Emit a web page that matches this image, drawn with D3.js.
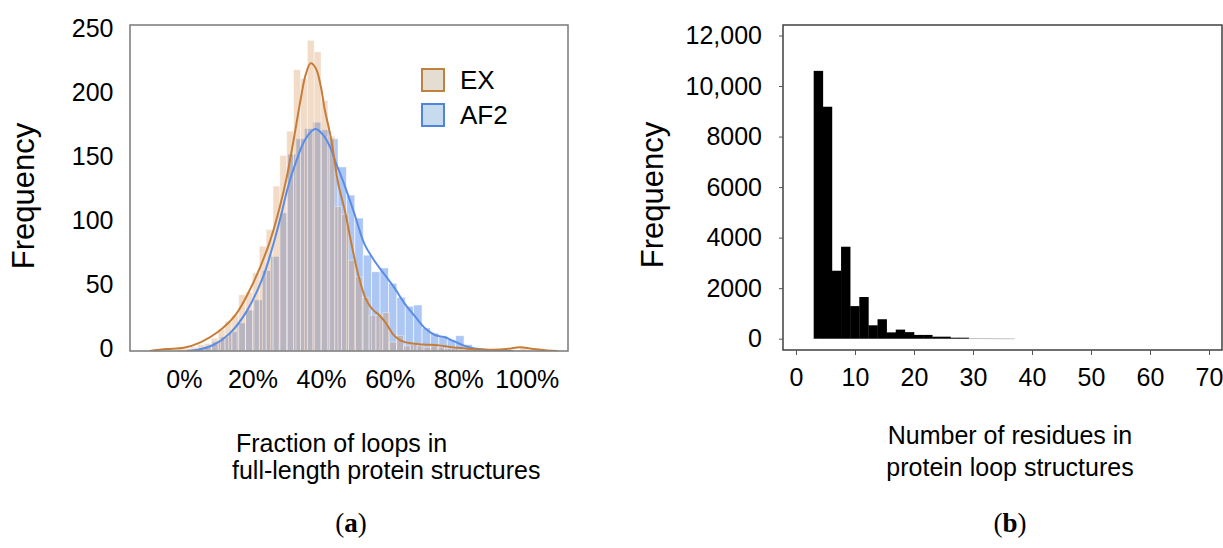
<!DOCTYPE html>
<html>
<head>
<meta charset="utf-8">
<script src="https://cdn.jsdelivr.net/npm/d3@7"></script>
<style>
  body { margin: 0; background: #fff; }
  svg { font-family: "Liberation Sans", Arial, sans-serif; }
</style>
</head>
<body>
<svg id="fig" width="1223" height="548"></svg>
<script>
// ---- panel (a): fraction of loops, two overlaid histograms + kde ----
const seriesNames = ['EX', 'AF2'];

const exBinWidth = 2;
const exBinStarts = [-2, 0, 2, 4, 6, 8, 10, 12, 14, 16, 18, 20, 22, 24, 26, 28, 30, 32, 34, 36, 38,
  40, 42, 44, 46, 48, 50, 52, 54, 56, 58, 60, 62, 64, 66, 68, 70, 72, 74, 76, 78, 80, 82,
  84, 86, 88, 90, 92, 94, 96, 98];
const exCounts = [3, 2, 3, 5, 6, 10, 17, 23, 28, 44, 46, 61, 82, 95, 129, 153, 172, 220, 213, 243, 234,
  196, 168, 113, 107, 71, 58, 42, 28, 28, 30, 7, 12, 4, 5, 4, 3, 4, 3, 2, 2, 1, 1,
  0, 0, 0, 0, 0, 0, 1, 3];

const af2BinWidth = 2.45;
const af2BinStarts = [3.3, 5.75, 8.2, 10.65, 13.1, 15.55, 18.0, 20.45, 22.9, 25.35, 27.8, 30.25,
  32.7, 35.15, 37.6, 40.05, 42.5, 44.95, 47.4, 49.85, 52.3, 54.75, 57.2, 59.65, 62.1, 64.55,
  67.0, 69.45, 71.9, 74.35, 76.8, 79.25, 81.7, 84.15, 86.6, 89.05];
const af2Counts = [1, 3, 7, 11, 15, 22, 32, 40, 63, 74, 108, 154, 166, 174, 179, 173, 166, 144,
  122, 104, 75, 62, 65, 53, 42, 35, 36, 18, 14, 12, 9, 12, 5, 2, 1, 1];

// kde curves: [fraction %, frequency]
const exKde = [[-10, 0], [-5, 1.5], [0, 2.5], [5, 7], [10, 15], [15, 28], [20, 52], [25, 85],
  [28, 113], [30, 136], [32, 165], [34, 196], [35.5, 216], [37, 225], [38.5, 221], [40, 206],
  [41, 190], [43, 165], [45, 131], [47, 109], [49, 82], [51, 58], [53, 41], [55, 32.5],
  [57, 28], [59, 21.5], [61, 13], [63, 8.5], [66, 6], [70, 5], [74, 4.5], [78, 3], [82, 2],
  [86, 1.2], [90, 1], [94, 1.5], [98, 3], [102, 1.5], [106, 0.4], [109, 0]];
const af2Kde = [[1, 0], [3.7, 0.8], [8.6, 4.7], [13.4, 13.8], [18.3, 31], [23.1, 58], [25.6, 79],
  [28, 102.5], [30.4, 128.6], [32.9, 149.5], [35.3, 165], [37.7, 173], [38.7, 173.5],
  [40.6, 169], [42.6, 160], [44, 149.5], [47, 128.6], [49.9, 106], [52.6, 84], [55.7, 70],
  [58.6, 59.5], [61.5, 49], [64.4, 37], [67.4, 27], [70.3, 17.8], [73.2, 12.5], [76.1, 10.7],
  [79, 7.3], [81.9, 4], [84.8, 2], [88, 1], [92, 0.3], [96, 0]];

const xTicksA = [0, 20, 40, 60, 80, 100];
const yTicksA = [0, 50, 100, 150, 200, 250];

// ---- panel (b): residues per loop ----
const loopBinStarts = [3, 4.55, 6.09, 7.64, 9.18, 10.73, 12.27, 13.82, 15.36, 16.91, 18.45, 20,
  21.55, 23.09, 24.64, 26.18, 27.73, 29.27, 30.82, 32.36, 33.91, 35.45];
const loopBinEnd = 37;
const loopCounts = [10600, 9180, 2690, 3640, 1290, 1650, 530, 770, 250, 360, 260, 150, 150, 80,
  80, 40, 40, 12, 10, 8, 6, 5];

const xTicksB = [0, 10, 20, 30, 40, 50, 60, 70];
const yTicksB = [0, 2000, 4000, 6000, 8000, 10000, 12000];
const yTickLabelsB = ['0', '2000', '4000', '6000', '8000', '10,000', '12,000'];

const svg = d3.select('#fig');

// colours
const exColor = 'rgb(211,138,72)';
const af2Color = 'rgb(100,149,237)';
const exLine = '#c67d38';
const af2Line = '#5a8de6';

// ================= panel (a) =================
const xA = d3.scaleLinear().domain([-15.7, 112]).range([130, 568]);
const yA = d3.scaleLinear().domain([0, 255]).range([351, 25]);

const chartA = svg.append('g');

chartA.append('clipPath').attr('id', 'clipA')
  .append('rect')
  .attr('x', 130).attr('y', 25).attr('width', 438).attr('height', 326);

const af2Data = af2BinStarts.map((s, i) => ({x0: s, x1: s + af2BinWidth, n: af2Counts[i]}));
const exData = exBinStarts.map((s, i) => ({x0: s, x1: s + exBinWidth, n: exCounts[i]}));

chartA.append('g').selectAll('rect')
  .data(af2Data)
  .join('rect')
  .attr('x', d => xA(d.x0))
  .attr('width', d => xA(d.x1) - xA(d.x0))
  .attr('y', d => yA(d.n))
  .attr('height', d => yA(0) - yA(d.n))
  .attr('fill', af2Color)
  .attr('fill-opacity', 0.53)
  .attr('stroke', '#fff')
  .attr('stroke-opacity', 0.7)
  .attr('stroke-width', 0.8);

chartA.append('g').selectAll('rect')
  .data(exData)
  .join('rect')
  .attr('x', d => xA(d.x0))
  .attr('width', d => xA(d.x1) - xA(d.x0))
  .attr('y', d => yA(d.n))
  .attr('height', d => yA(0) - yA(d.n))
  .attr('fill', exColor)
  .attr('fill-opacity', 0.3)
  .attr('stroke', '#fff')
  .attr('stroke-opacity', 0.5)
  .attr('stroke-width', 0.8);

const kdeLine = d3.line()
  .x(d => xA(d[0]))
  .y(d => yA(d[1]))
  .curve(d3.curveCatmullRom.alpha(0.5));

chartA.append('path')
  .datum(af2Kde)
  .attr('clip-path', 'url(#clipA)')
  .attr('d', kdeLine)
  .attr('fill', 'none')
  .attr('stroke', af2Line)
  .attr('stroke-width', 2);

chartA.append('path')
  .datum(exKde)
  .attr('clip-path', 'url(#clipA)')
  .attr('d', kdeLine)
  .attr('fill', 'none')
  .attr('stroke', exLine)
  .attr('stroke-width', 2);

// frame
chartA.append('rect')
  .attr('x', 130).attr('y', 25).attr('width', 438).attr('height', 326)
  .attr('fill', 'none')
  .attr('stroke', '#808080')
  .attr('stroke-width', 1.6);

// axes
chartA.append('g')
  .attr('transform', 'translate(0,351)')
  .call(d3.axisBottom(xA).tickValues(xTicksA).tickSize(0).tickPadding(19).tickFormat(d => d + '%'))
  .call(g => g.select('.domain').remove())
  .call(g => g.selectAll('text').attr('font-size', 25).attr('fill', '#000')
    .attr('font-family', '"Liberation Sans", Arial, sans-serif'));

chartA.append('g')
  .attr('transform', 'translate(130,0)')
  .call(d3.axisLeft(yA).tickValues(yTicksA).tickSize(0).tickPadding(16.5))
  .call(g => g.select('.domain').remove())
  .call(g => g.selectAll('text').attr('font-size', 25).attr('fill', '#000').attr('dy', '0.2em')
    .attr('font-family', '"Liberation Sans", Arial, sans-serif'));

// legend
const legendA = chartA.append('g').attr('transform', 'translate(422,69)');
const legendFill = ['#e4ddd1', '#c6dbee'];
const legendStroke = ['#c0813f', '#4f83dc'];
seriesNames.forEach((name, i) => {
  const row = legendA.append('g').attr('transform', `translate(0,${i * 35})`);
  row.append('rect')
    .attr('width', 22).attr('height', 22)
    .attr('fill', legendFill[i])
    .attr('stroke', legendStroke[i])
    .attr('stroke-width', 2);
  row.append('text')
    .attr('x', 38).attr('y', 20)
    .attr('font-size', 26)
    .text(name);
});

// titles
chartA.append('text')
  .attr('transform', 'translate(34,196) rotate(-90)')
  .attr('text-anchor', 'middle')
  .attr('font-size', 31)
  .text('Frequency');

chartA.append('text')
  .attr('x', 236).attr('y', 452)
  .attr('font-size', 25)
  .text('Fraction of loops in');
chartA.append('text')
  .attr('x', 232).attr('y', 479)
  .attr('font-size', 25)
  .text('full-length protein structures');

// ================= panel (b) =================
const xB = d3.scaleLinear().domain([-2.2, 72.2]).range([783, 1222]);
const yB = d3.scaleLinear().domain([-447, 12415]).range([350, 25]);

const chartB = svg.append('g');

const loopData = loopBinStarts.map((s, i) => ({
  x0: s,
  x1: i < loopBinStarts.length - 1 ? loopBinStarts[i + 1] : loopBinEnd,
  n: loopCounts[i]
}));

chartB.append('g').selectAll('rect')
  .data(loopData)
  .join('rect')
  .attr('x', d => xB(d.x0))
  .attr('width', d => xB(d.x1) - xB(d.x0) + 0.3)
  .attr('y', d => yB(d.n))
  .attr('height', d => Math.max(0.6, yB(0) - yB(d.n)))
  .attr('fill', d => d.n < 30 ? '#999' : '#000');

chartB.append('rect')
  .attr('x', 783).attr('y', 25).attr('width', 439).attr('height', 325)
  .attr('fill', 'none')
  .attr('stroke', '#333')
  .attr('stroke-width', 1.4);

chartB.append('g')
  .attr('transform', 'translate(0,350)')
  .call(d3.axisBottom(xB).tickValues(xTicksB).tickSize(5).tickPadding(13))
  .call(g => g.select('.domain').remove())
  .call(g => g.selectAll('.tick line').attr('stroke', '#555'))
  .call(g => g.selectAll('text').attr('font-size', 25).attr('fill', '#000')
    .attr('font-family', '"Liberation Sans", Arial, sans-serif'));

chartB.append('g')
  .attr('transform', 'translate(783,0)')
  .call(d3.axisLeft(yB).tickValues(yTicksB).tickSize(4).tickPadding(17)
    .tickFormat((d, i) => yTickLabelsB[i]))
  .call(g => g.select('.domain').remove())
  .call(g => g.selectAll('.tick line').attr('stroke', '#555'))
  .call(g => g.selectAll('text').attr('font-size', 25).attr('fill', '#000')
    .attr('font-family', '"Liberation Sans", Arial, sans-serif'));

chartB.append('text')
  .attr('transform', 'translate(663,195) rotate(-90)')
  .attr('text-anchor', 'middle')
  .attr('font-size', 31)
  .text('Frequency');

chartB.append('text')
  .attr('x', 1010).attr('y', 444)
  .attr('text-anchor', 'middle')
  .attr('font-size', 25)
  .text('Number of residues in');
chartB.append('text')
  .attr('x', 1010).attr('y', 476)
  .attr('text-anchor', 'middle')
  .attr('font-size', 25)
  .text('protein loop structures');

// panel labels
[['a', 351], ['b', 1010]].forEach(([letter, cx]) => {
  const t = svg.append('text')
    .attr('x', cx).attr('y', 532)
    .attr('text-anchor', 'middle')
    .attr('font-family', '"Liberation Serif", "Times New Roman", serif')
    .attr('font-size', 27);
  t.append('tspan').text('(');
  t.append('tspan').attr('font-weight', 'bold').text(letter);
  t.append('tspan').text(')');
});
</script>
</body>
</html>
